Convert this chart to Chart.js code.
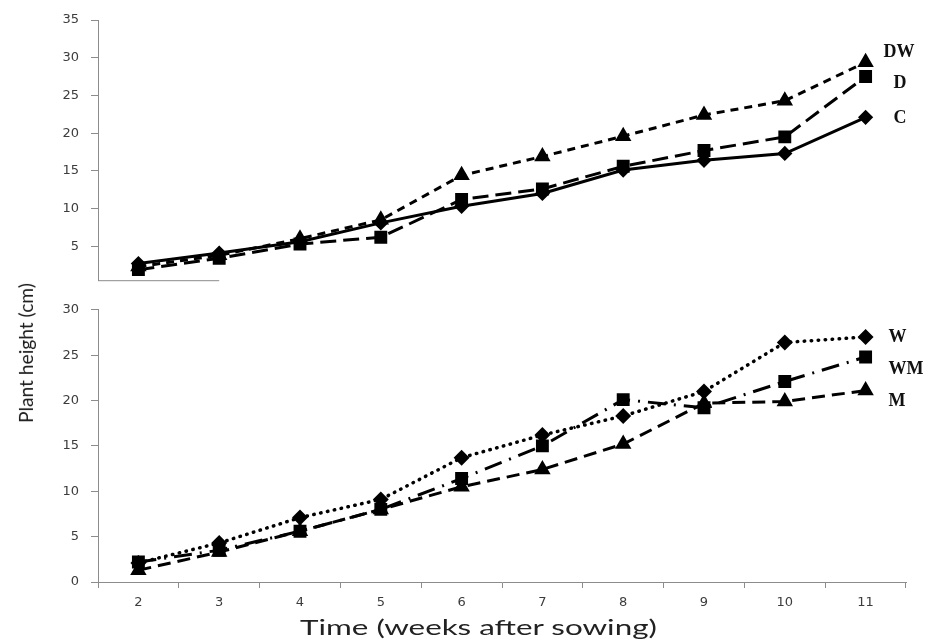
<!DOCTYPE html>
<html>
<head>
<meta charset="utf-8">
<script src="https://cdn.jsdelivr.net/npm/chart.js@4.4.1/dist/chart.umd.min.js"></script>
<style>
  body { margin: 0; background: #fff; }
  #wrap { position: relative; width: 949px; height: 639px; overflow: hidden; }
  .panel { position: absolute; left: 0; width: 949px; }
  #top { top: 0; height: 300px; }
  #bottom { top: 290px; height: 349px; }
  .axis-title { position: absolute; white-space: nowrap; font-family: Lato, sans-serif; line-height: 26px; }
  #yTitle { color: #1a1a1a; font-size: 20px; }
  #xTitle { color: #222; font-size: 21px; }
</style>
</head>
<body>
<div id="wrap">
  <div class="panel" id="top"><canvas id="topChart" width="949" height="300"></canvas></div>
  <div class="panel" id="bottom"><canvas id="bottomChart" width="949" height="349"></canvas></div>
  <div class="axis-title" id="yTitle">Plant height (cm)</div>
  <div class="axis-title" id="xTitle">Time (weeks after sowing)</div>
</div>
<script>
const weeks = [2, 3, 4, 5, 6, 7, 8, 9, 10, 11];
const topTicks = [5, 10, 15, 20, 25, 30, 35];
const bottomTicks = [0, 5, 10, 15, 20, 25, 30];

// upper panel
const C  = [2.7, 4.1, 5.6, 8.1, 10.3, 12.0, 15.1, 16.4, 17.3, 22.1];
const D  = [1.9, 3.4, 5.3, 6.2, 11.2, 12.6, 15.6, 17.7, 19.5, 27.5];
const DW = [2.3, 3.8, 6.0, 8.5, 14.4, 16.9, 19.6, 22.4, 24.3, 29.4];

// lower panel
const W  = [2.1, 4.3, 7.1, 9.1, 13.7, 16.2, 18.3, 21.0, 26.4, 27.0];
const WM = [2.2, 3.5, 5.6, 8.0, 11.4, 15.0, 20.1, 19.2, 22.1, 24.8];
const M  = [1.3, 3.3, 5.6, 8.0, 10.5, 12.4, 15.2, 19.7, 19.9, 21.1];

const AXIS = "#8c8c8c";
const tickFont = { family: "DejaVu Sans", size: 13 };

function series(label, data, pointStyle, radius, dash, tagDx, tagDy, extra) {
  return Object.assign({
    label, data, pointStyle,
    pointRadius: radius,
    borderColor: "#000",
    backgroundColor: "#000",
    pointBorderColor: "#000",
    pointBackgroundColor: "#000",
    borderWidth: 3,
    borderDash: dash,
    tension: 0,
    clip: false,
    tagDx, tagDy
  }, extra || {});
}

// series name written right of the last point
const endLabels = {
  id: "endLabels",
  afterDatasetsDraw(chart) {
    const ctx = chart.ctx;
    ctx.save();
    ctx.font = 'bold 18px "Liberation Serif", serif';
    ctx.fillStyle = "#111";
    ctx.textBaseline = "middle";
    chart.data.datasets.forEach((ds, i) => {
      const pts = chart.getDatasetMeta(i).data;
      const last = pts[pts.length - 1];
      ctx.fillText(ds.label, last.x + ds.tagDx, last.y + ds.tagDy);
    });
    ctx.restore();
  }
};

// the upper panel only keeps a short piece of its base line
const stubBase = {
  id: "stubBase",
  afterDraw(chart) {
    const { ctx, chartArea, scales } = chart;
    ctx.save();
    ctx.strokeStyle = AXIS;
    ctx.lineWidth = 1;
    ctx.beginPath();
    ctx.moveTo(chartArea.left, chartArea.bottom + 0.5);
    ctx.lineTo(scales.x.getPixelForValue(1), chartArea.bottom + 0.5);
    ctx.stroke();
    ctx.restore();
  }
};

function yScale(min, max, ticks) {
  return {
    min, max,
    afterBuildTicks: (s) => { s.ticks = ticks.map((v) => ({ value: v })); },
    afterFit: (s) => { s.width = 98; },
    border: { color: AXIS },
    grid: { drawOnChartArea: false, drawTicks: true, tickLength: 7, color: AXIS },
    ticks: { padding: 12, color: "#3c3c3c", font: tickFont }
  };
}

const common = {
  responsive: false,
  animation: false,
  plugins: { legend: { display: false }, tooltip: { enabled: false } }
};

new Chart(document.getElementById("topChart"), {
  type: "line",
  data: {
    labels: weeks,
    datasets: [
      series("C", C, "rectRot", 5.5, [], 28, 1),
      series("D", D, "rect", 7, [16, 7], 28, 7),
      series("DW", DW, "triangle", 6.5, [8, 6], 18, -10)
    ]
  },
  options: Object.assign({}, common, {
    layout: { padding: { top: 20, right: 43, bottom: 8, left: 0 } },
    scales: {
      x: { type: "category", offset: true, display: false },
      y: yScale(0.5, 35, topTicks)
    }
  }),
  plugins: [endLabels, stubBase]
});

new Chart(document.getElementById("bottomChart"), {
  type: "line",
  data: {
    labels: weeks,
    datasets: [
      series("W", W, "rectRot", 5.5, [0.5, 6.5], 23, 0, { borderCapStyle: "round", borderWidth: 3.5 }),
      series("WM", WM, "rect", 7, [18, 8, 2, 8], 23, 12),
      series("M", M, "triangle", 6.5, [13, 7], 23, 11)
    ]
  },
  options: Object.assign({}, common, {
    layout: { padding: { top: 15, right: 43, bottom: 0, left: 0 } },
    scales: {
      x: {
        type: "category",
        offset: true,
        afterFit: (s) => { s.height = 57; },
        border: { color: AXIS },
        grid: { offset: true, drawOnChartArea: false, drawTicks: true, tickLength: 6, color: AXIS },
        ticks: { padding: 7, color: "#3c3c3c", font: tickFont, maxRotation: 0 }
      },
      y: yScale(0, 30, bottomTicks)
    }
  }),
  plugins: [endLabels]
});

function placeTitle(el, cx, cy, length, rotate) {
  const w = el.offsetWidth;
  const h = el.offsetHeight;
  el.style.left = (cx - w / 2) + "px";
  el.style.top = (cy - h / 2) + "px";
  el.style.transform = (rotate ? "rotate(-90deg) " : "") + "scaleX(" + (length / w) + ")";
}
placeTitle(document.getElementById("yTitle"), 25, 353, 140, true);
placeTitle(document.getElementById("xTitle"), 478, 627, 357, false);
</script>
</body>
</html>
